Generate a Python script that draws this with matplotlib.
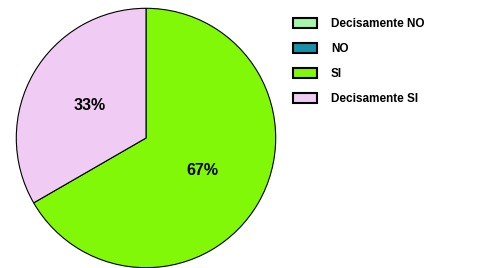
import matplotlib.pyplot as plt

# ── Data ──────────────────────────────────────────────────
labels = ["Decisamente NO", "NO", "SI", "Decisamente SI"]
values = [0, 0, 2, 1]
colors = ["#a0f8a8", "#1890a8", "#80f808", "#f0ccf4"]

plt.rcParams["font.family"] = ["Liberation Sans", "DejaVu Sans"]

fig = plt.figure(figsize=(4.81, 2.68), dpi=100)
ax = fig.add_axes([15 / 481, -1 / 268, 262 / 481, 262 / 268])


def pct(p):
    return f"{p:.0f}%" if p > 0 else ""


wedges, texts, autotexts = ax.pie(
    values,
    colors=colors,
    startangle=90,
    counterclock=False,
    autopct=pct,
    pctdistance=0.5,
    wedgeprops=dict(edgecolor="black", linewidth=0.8),
    textprops=dict(fontsize=11.5, fontweight="bold", color="black"),
)
ax.set_xlim(-1.01, 1.01)
ax.set_ylim(-1.01, 1.01)
ax.set_aspect("equal")

# ── Legend ────────────────────────────────────────────────
handles = [plt.Rectangle((0, 0), 1, 1, facecolor=c, edgecolor="black", linewidth=1.5)
           for c in colors]
leg = fig.legend(
    handles, labels,
    loc="upper left",
    bbox_to_anchor=(293 / 481, 1 - 18 / 268),
    frameon=False,
    prop=dict(size=8.5, weight="bold"),
    handlelength=2.0,
    handleheight=0.9,
    handletextpad=1.2,
    labelspacing=1.1,
    borderaxespad=0,
    borderpad=0,
)

fig.savefig("out.png", dpi=100)
